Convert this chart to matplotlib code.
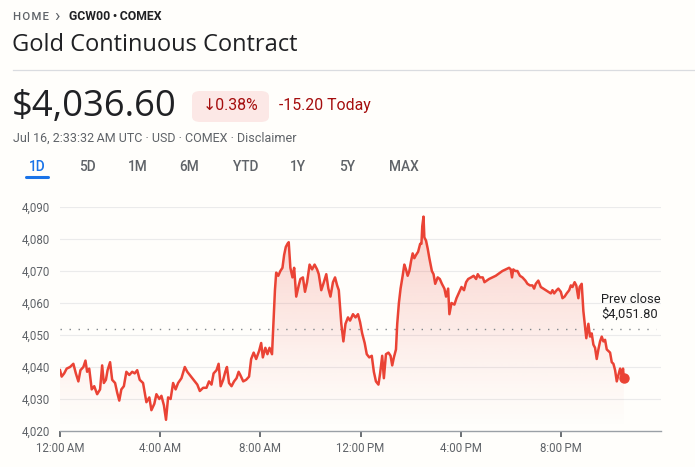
import numpy as np
import matplotlib
matplotlib.use("Agg")
import matplotlib.pyplot as plt
from matplotlib.patches import FancyBboxPatch
from matplotlib.colors import to_rgb

# ---------------- data ----------------
minutes = [0, 4, 10, 16, 24, 32, 38, 44, 49, 56, 61, 65, 70, 76, 82, 89, 96, 101, 105, 110,
           114, 120, 125, 132, 137, 142, 147, 153, 159, 166, 173, 179, 185, 191, 199, 207, 214,
           219, 226, 231, 238, 243, 249, 254, 259, 265, 271, 277, 283, 291, 299, 305, 311, 317,
           323, 329, 335, 343, 351, 357, 363, 368, 375, 380, 385, 391, 396, 400, 405, 411, 417,
           423, 428, 432, 439, 446, 453, 458, 464, 470, 477, 482, 486, 492, 497, 502, 508, 512,
           515, 518, 523, 528, 533, 537, 541, 545, 548, 552, 557, 561, 566, 572, 576, 582, 587,
           592, 598, 604, 610, 616, 620, 626, 631, 638, 643, 648, 654, 659, 664, 668,
           674, 679, 684, 690, 695, 702, 708, 714, 719, 724, 730, 735, 741, 747, 752, 757, 763,
           767, 772, 776, 781, 787, 792, 796, 800, 805, 808, 812, 816, 821, 825, 829, 833, 837,
           841, 845, 849, 853, 858, 863, 866, 868, 871, 873, 877, 881, 885, 891, 895, 899, 905,
           910, 915, 921, 925, 930, 933, 938, 945, 950, 957, 962, 968, 973, 978, 985, 991, 997,
           1001, 1006, 1013, 1017, 1028, 1044, 1060, 1076, 1080, 1083, 1086, 1091, 1096, 1102,
           1108, 1115, 1120, 1126, 1132, 1136, 1140, 1146, 1152, 1158, 1164, 1170, 1176, 1180,
           1184, 1190, 1194, 1200, 1204, 1209, 1214, 1220, 1224, 1228, 1233, 1237, 1242, 1245,
           1250, 1254, 1258, 1261, 1266, 1270, 1274, 1278, 1282, 1286, 1290, 1294, 1298, 1302,
           1306, 1310, 1314, 1318, 1322, 1326, 1330, 1334, 1338, 1342, 1346, 1349, 1351]
prices = [4039, 4037, 4038, 4039.5, 4040, 4041, 4038, 4035.5, 4039, 4040, 4042, 4038.5, 4039.5,
          4033, 4034, 4031.5, 4033, 4040.5, 4035, 4036, 4039, 4041.5, 4036, 4035, 4032, 4029.5,
          4033, 4034, 4038.5, 4037.5, 4038.5, 4038, 4039, 4036, 4035, 4029, 4030.5, 4026.5,
          4028.5, 4031.5, 4030, 4031, 4028, 4023.5, 4030.5, 4030, 4035, 4033, 4035, 4036.5,
          4040, 4038.5, 4037.5, 4036.5, 4035.5, 4034.5, 4032.5, 4033.5, 4033.5, 4035.5, 4034.5,
          4038, 4039, 4041, 4034, 4036, 4038.5, 4040, 4035, 4034, 4035.5, 4036.5, 4038.5,
          4037.5, 4035.5, 4036, 4037, 4042.5, 4044.5, 4042.5, 4045, 4047.5, 4043, 4046, 4044,
          4046, 4044, 4055.5, 4064, 4069.5, 4068.5, 4070, 4071, 4075, 4077.5, 4078.5, 4079,
          4071, 4068, 4071, 4062, 4065.5, 4067.5, 4068, 4063.5, 4066.5, 4072, 4070.5, 4072,
          4070.5, 4069, 4064, 4066, 4069, 4064.5, 4062, 4066.5, 4068, 4065.5, 4064,
          4053.5, 4048, 4053.5, 4055.5, 4054.5, 4056.5, 4055.5, 4056.5, 4054, 4050.5, 4047.5,
          4044, 4043, 4043.5, 4038.5, 4035.5, 4034.5, 4038, 4043.5, 4036.5, 4044, 4044.5,
          4043.5, 4040.5, 4043, 4045.5, 4053.5, 4060, 4064.5, 4068.5, 4072, 4070.5, 4068.5,
          4070, 4073, 4075.5, 4074, 4075, 4076, 4078.5, 4078.5, 4084, 4087, 4080.5, 4079.5,
          4077, 4074, 4070, 4069, 4066, 4068, 4067.5, 4066, 4064.5, 4062, 4064.5, 4056.5, 4060,
          4059.5, 4061.5, 4063.5, 4065, 4064, 4066.5, 4067.5, 4068, 4068.5, 4067.5, 4069, 4068,
          4068, 4066.5, 4067.5, 4068.5, 4070, 4071, 4070.5, 4068, 4070.5, 4070, 4070, 4068.5,
          4068, 4067, 4066, 4065.5, 4065.5, 4064.5, 4066, 4067, 4065, 4064.5, 4064, 4063.5,
          4063, 4064, 4063, 4064, 4064.5, 4063.5, 4061.5, 4062, 4063, 4064, 4065.5, 4065,
          4066.5, 4065.5, 4061.5, 4065, 4066, 4057.5, 4052.5, 4049, 4053.5, 4049.5, 4050.5,
          4047, 4046, 4042.5, 4045.5, 4048, 4049.5, 4048, 4048.5, 4045.5, 4045, 4044.5,
          4041.5, 4041, 4039, 4035.5, 4037.5, 4039.5, 4037, 4039.5, 4036.6]
prev_close = 4051.80
last_price = 4036.60
y_ticks = [4020, 4030, 4040, 4050, 4060, 4070, 4080, 4090]
x_ticks = [0, 240, 480, 720, 960, 1200]
x_labels = ["12:00\u202fAM", "4:00\u202fAM", "8:00\u202fAM", "12:00\u202fPM", "4:00\u202fPM", "8:00\u202fPM"]
tabs = ["1D", "5D", "1M", "6M", "YTD", "1Y", "5Y", "MAX"]

# ---------------- style ----------------
W, H = 695, 467
BG = "#fffefb"
RED = "#ea4335"
DARKRED = "#a50e0e"
GRAY = "#5f6368"
DARK = "#202124"
FONT = ["Roboto", "DejaVu Sans"]
plt.rcParams["font.family"] = FONT

fig = plt.figure(figsize=(W / 100, H / 100), dpi=100, facecolor=BG)

def fx(px):
    return px / W

def fy(py):
    return 1 - py / H

# axes placement (pixel box)
left, right, top, bottom = 60, 661, 207, 431
ax = fig.add_axes([fx(left), fy(bottom), fx(right - left), (bottom - top) / H])
ax.set_facecolor(BG)
ax.set_xlim(0, 1440)
ax.set_ylim(4020, 4090)

# grid
for v in y_ticks[1:]:
    ax.axhline(v, color="#ebebeb", lw=0.8, zorder=0)

# gradient fill
fill = ax.fill_between(minutes, prices, 4020, color="none", lw=0)
grad = np.linspace(0, 1, 256).reshape(-1, 1)
rgb = to_rgb(RED)
img = np.zeros((256, 1, 4))
img[..., 0], img[..., 1], img[..., 2] = rgb
img[..., 3] = 0.26 * grad ** 1.2
im = ax.imshow(img, extent=[0, 1440, 4020, 4090], origin="lower", aspect="auto", zorder=1)
im.set_clip_path(fill.get_paths()[0], transform=ax.transData)

# prev close dotted line
ax.plot([0, 1428], [prev_close, prev_close], color="#80868b", lw=1.0,
        linestyle=(0, (1, 5.5)), zorder=2, clip_on=False)

ax.plot(minutes, prices, color=RED, lw=1.8, zorder=3, solid_joinstyle="round")
ax.plot([minutes[-1]], [last_price], "o", color=RED, ms=6.5, zorder=4, clip_on=False)

ax.text(1297, 4061.2, "Prev close", fontsize=9.3, color=DARK, va="center", ha="left")
ax.text(1297, 4056.5, "$4,051.80", fontsize=9.3, color=DARK, va="center", ha="left")

for s in ["top", "right", "left"]:
    ax.spines[s].set_visible(False)
ax.spines["bottom"].set_color("#9aa0a6")
ax.spines["bottom"].set_linewidth(1.0)
ax.set_yticks(y_ticks)
ax.set_yticklabels([f"{v:,}" for v in y_ticks])
ax.set_xticks(x_ticks)
ax.set_xticklabels(x_labels)
ax.tick_params(axis="y", length=0, pad=7, labelsize=8.3, labelcolor=GRAY)
ax.tick_params(axis="x", length=4, width=1.3, color="#5f6368", pad=4, labelsize=8.3,
               labelcolor=GRAY)

# ---------------- header ----------------
fig.text(fx(13), fy(17), "H O M E".replace(" ", "\u200a"), fontsize=8.2, color=GRAY,
         va="center", ha="left", fontweight="medium", family=["Roboto", "DejaVu Sans"])
fig.text(fx(54), fy(16.5), "\u203a", fontsize=13, color=GRAY, va="center", ha="left")
fig.text(fx(69), fy(17), "GCW00\u2009•\u2009COMEX", fontsize=8.8, color=DARK, va="center",
         ha="left", fontweight="bold")
fig.text(fx(12), fy(45), "Gold Continuous Contract", fontsize=17.0, color=DARK, va="center",
         ha="left", family=["Open Sans", "DejaVu Sans"])
fig.add_artist(plt.Line2D([fx(13), 1.0], [fy(70), fy(70)], color="#dadce0", lw=0.9))

fig.text(fx(12), fy(107), "$4,036.60", fontsize=26.2, color=DARK, va="center", ha="left",
         family=["Open Sans", "DejaVu Sans"])
box = FancyBboxPatch((fx(192), fy(122)), fx(77), 31 / H,
                     boxstyle="round,pad=0,rounding_size=0.012", transform=fig.transFigure,
                     facecolor="#fce8e6", edgecolor="none")
fig.add_artist(box)
fig.text(fx(231), fy(106), "\u21930.38%", fontsize=11.4, color=DARKRED, va="center",
         ha="center")
fig.text(fx(279), fy(106), "-15.20 Today", fontsize=11.4, color=DARKRED, va="center",
         ha="left")
fig.text(fx(13), fy(138), "Jul 16, 2:33:32\u202fAM UTC · USD · COMEX · Disclaimer",
         fontsize=9.0, color=GRAY, va="center", ha="left")

tab_x = [37, 87, 137.5, 189, 245.5, 298, 347, 404]
for t, x in zip(tabs, tab_x):
    fig.text(fx(x), fy(167), t, fontsize=9.8, va="center", ha="center",
             color="#1a73e8" if t == "1D" else GRAY, fontweight="medium")
fig.add_artist(plt.Line2D([fx(26), fx(48)], [fy(177), fy(177)], color="#1a73e8", lw=2.2,
                          solid_capstyle="round"))

fig.savefig("out.png", dpi=100, facecolor=BG)
